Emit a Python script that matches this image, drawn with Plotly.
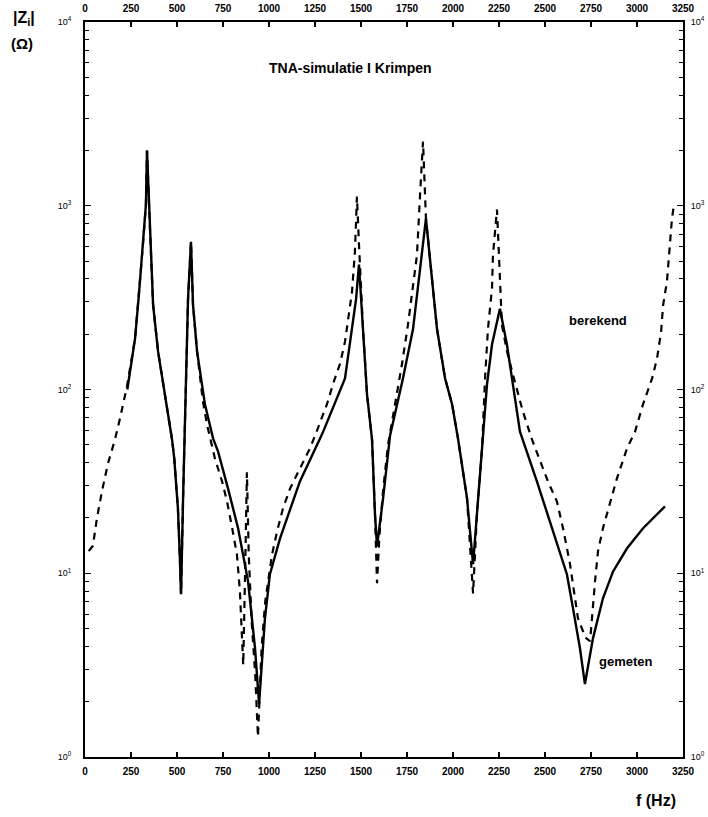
import plotly.graph_objects as go

# ---- data (frequency in Hz, |Z| in Ohm as log10 values) ----
gemeten_f = [230, 272, 293, 315, 331, 337, 353, 370, 397, 435, 473, 485, 505, 515, 522,
             533, 543, 554, 560, 576, 587, 609, 652, 696, 723, 777, 832, 886, 924, 946,
             978, 1005, 1060, 1168, 1290, 1413, 1451, 1473, 1489, 1511, 1533, 1560, 1576, 1587,
             1620, 1658, 1728, 1783, 1821, 1853, 1886, 1913, 1957, 1995, 2027, 2038, 2076, 2109,
             2130, 2158, 2163, 2185, 2212, 2255, 2293, 2330, 2364, 2456, 2543, 2619, 2652, 2690,
             2717, 2761, 2815, 2870, 2946, 3033, 3152]
gemeten_log = [2.00, 2.277, 2.516, 2.788, 3.005, 3.30, 2.875, 2.462, 2.207, 1.973, 1.728, 1.625, 1.353, 1.10, 0.886,
               1.408, 1.772, 2.207, 2.495, 2.804, 2.462, 2.207, 1.918, 1.734, 1.663, 1.462, 1.245, 0.957, 0.592, 0.288,
               0.755, 0.995, 1.19, 1.50, 1.76, 2.06, 2.33, 2.49, 2.68, 2.33, 1.97, 1.728, 1.32, 1.147,
               1.408, 1.75, 2.06, 2.33, 2.64, 2.93, 2.60, 2.33, 2.06, 1.92, 1.734, 1.66, 1.41, 1.05,
               1.32, 1.68, 1.77, 2.03, 2.245, 2.44, 2.245, 2.00, 1.77, 1.50, 1.228, 0.995, 0.81, 0.592,
               0.397, 0.647, 0.864, 1.01, 1.136, 1.245, 1.364]

berekend_f = [20, 43, 65, 92, 125, 163, 190, 212, 228, 272, 293, 315, 331, 337, 353, 370, 397, 435, 473,
              485, 505, 515, 522, 533, 543, 554, 560, 576, 587, 609, 641, 663, 706, 745, 772, 800, 826,
              842, 852, 860, 870, 880, 890, 905, 925, 940, 960, 980, 1016, 1044, 1076, 1114, 1168, 1223,
              1266, 1315, 1348, 1386, 1413, 1429, 1451, 1467, 1478, 1489, 1511, 1533, 1560, 1576, 1587,
              1600, 1620, 1647, 1685, 1723, 1755, 1783, 1804, 1821, 1837, 1853, 1886, 1913, 1957, 1995,
              2027, 2076, 2109, 2130, 2158, 2174, 2190, 2212, 2217, 2239, 2266, 2293, 2326, 2380, 2429,
              2456, 2516, 2565, 2598, 2636, 2663, 2679, 2720, 2745, 2772, 2788, 2815, 2853, 2891, 2946,
              2989, 3033, 3082, 3109, 3131, 3142, 3163, 3174, 3190, 3200]
berekend_log = [1.12, 1.15, 1.30, 1.446, 1.598, 1.728, 1.842, 1.951, 2.016, 2.277, 2.516, 2.788, 3.005, 3.30, 2.875, 2.462, 2.207, 1.973, 1.728,
                1.625, 1.353, 1.10, 0.886, 1.408, 1.772, 2.207, 2.495, 2.804, 2.462, 2.207, 1.935, 1.81, 1.625, 1.50, 1.39, 1.245, 1.10,
                0.90, 0.70, 0.50, 1.00, 1.55, 1.10, 0.75, 0.45, 0.11, 0.60, 0.85, 1.10, 1.228, 1.353, 1.46, 1.57, 1.68,
                1.79, 1.92, 2.03, 2.14, 2.26, 2.386, 2.53, 2.75, 3.05, 2.79, 2.33, 1.97, 1.728, 1.32, 0.946,
                1.20, 1.45, 1.70, 1.92, 2.14, 2.35, 2.57, 2.73, 3.06, 3.35, 2.93, 2.60, 2.33, 2.06, 1.92,
                1.734, 1.41, 0.89, 1.32, 1.68, 2.06, 2.33, 2.55, 2.73, 2.98, 2.35, 2.21, 2.08, 1.88, 1.728,
                1.66, 1.50, 1.39, 1.245, 1.05, 0.864, 0.755, 0.65, 0.63, 0.957, 1.12, 1.245, 1.375, 1.516, 1.68,
                1.77, 1.92, 2.06, 2.17, 2.315, 2.46, 2.59, 2.73, 2.93, 3.00]

x_ticks = [0, 250, 500, 750, 1000, 1250, 1500, 1750, 2000, 2250, 2500, 2750, 3000, 3250]
decades = [0, 1, 2, 3, 4]

gemeten_z = [10 ** v for v in gemeten_log]
berekend_z = [10 ** v for v in berekend_log]

y_major = [10 ** d for d in decades]
y_major_text = [f"10<sup>{d}</sup>" for d in decades]
y_minor = [m * 10 ** d for d in decades[:-1] for m in range(2, 10)]

FONT = "Liberation Sans"

fig = go.Figure()
fig.add_trace(go.Scatter(x=berekend_f, y=berekend_z, mode="lines",
                         line=dict(color="black", width=2.2, dash="7px,6px"),
                         showlegend=False, hoverinfo="skip"))
fig.add_trace(go.Scatter(x=gemeten_f, y=gemeten_z, mode="lines",
                         line=dict(color="black", width=2.4),
                         showlegend=False, hoverinfo="skip"))
# invisible trace to carry the top / right axes
fig.add_trace(go.Scatter(x=[x_ticks[0]], y=[y_major[0]], xaxis="x2", yaxis="y2",
                         mode="markers", marker=dict(opacity=0), showlegend=False, hoverinfo="skip"))

axis_common = dict(showline=True, linecolor="black", linewidth=2, ticks="inside",
                   tickcolor="black", showgrid=False, zeroline=False, automargin=False)
minor_y = dict(tickvals=y_minor, ticks="inside", ticklen=4, tickwidth=1.2,
               tickcolor="black", showgrid=False)

fig.update_layout(
    width=708, height=817,
    margin=dict(l=85, r=25, t=22, b=60),
    plot_bgcolor="white", paper_bgcolor="white",
    font=dict(family=FONT, color="black"),
    xaxis=dict(range=[0, 3250], tickvals=x_ticks, ticklen=5, tickwidth=1.5,
               ticklabelstandoff=4,
               tickfont=dict(size=10, weight="bold"), **axis_common),
    xaxis2=dict(range=[0, 3250], tickvals=x_ticks, ticklen=5, tickwidth=1.5,
                overlaying="x", side="top", anchor="y", ticklabelstandoff=4,
                tickfont=dict(size=10, weight="bold"), **axis_common),
    yaxis=dict(type="log", range=[0, 4], tickvals=y_major, ticktext=y_major_text,
               ticklen=6, tickwidth=1.2, tickfont=dict(size=9), ticklabelstandoff=10,
               minor=minor_y, **axis_common),
    yaxis2=dict(type="log", range=[0, 4], tickvals=y_major, ticktext=y_major_text,
                overlaying="y", side="right", anchor="x2", ticklabelstandoff=4,
                ticklen=6, tickwidth=1.2, tickfont=dict(size=9),
                minor=minor_y, **axis_common),
)


def px_to_paper(px, py):
    return (px - 85) / 598, (757 - py) / 735


annots = [
    ("TNA-simulatie I Krimpen", 350, 68, 14),
    ("|Z<sub>i</sub>|", 24, 18, 16),
    ("(Ω)", 22, 44, 15),
    ("berekend", 598, 320, 13),
    ("gemeten", 626, 661, 13),
    ("f (Hz)", 656, 800, 16),
]
for text, px, py, size in annots:
    ax, ay = px_to_paper(px, py)
    fig.add_annotation(x=ax, y=ay, xref="paper", yref="paper", text=text, showarrow=False,
                       font=dict(family=FONT, size=size, weight="bold", color="black"),
                       xanchor="center", yanchor="middle")

fig.write_html("out.html")
